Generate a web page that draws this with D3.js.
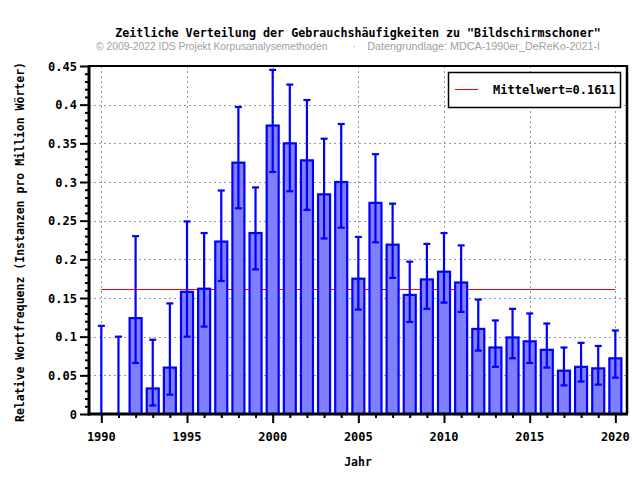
<!DOCTYPE html>
<html>
<head>
<meta charset="utf-8">
<script src="https://cdn.jsdelivr.net/npm/d3@7"></script>
<style>
  body { margin: 0; background: #fff; }
  svg { display: block; }
  .mono { font-family: "DejaVu Sans Mono", "Liberation Mono", monospace; font-weight: bold; }
</style>
</head>
<body>
<svg id="chart" width="640" height="480"></svg>
<script>
// values
const years = [1990, 1991, 1992, 1993, 1994, 1995, 1996, 1997, 1998, 1999,
               2000, 2001, 2002, 2003, 2004, 2005, 2006, 2007, 2008, 2009,
               2010, 2011, 2012, 2013, 2014, 2015, 2016, 2017, 2018, 2019, 2020];
const values = [0, 0, 0.124, 0.033, 0.060, 0.158, 0.162, 0.223, 0.325, 0.234,
                0.373, 0.350, 0.328, 0.284, 0.300, 0.175, 0.273, 0.219, 0.154, 0.174,
                0.184, 0.170, 0.110, 0.086, 0.099, 0.094, 0.083, 0.056, 0.061, 0.059, 0.072];
const upper = [0.114, 0.100, 0.230, 0.096, 0.143, 0.249, 0.234, 0.289, 0.397, 0.293,
               0.445, 0.426, 0.406, 0.356, 0.375, 0.229, 0.336, 0.272, 0.197, 0.220,
               0.234, 0.218, 0.148, 0.121, 0.136, 0.130, 0.117, 0.086, 0.092, 0.088, 0.108];
const lower = [0, 0, 0.066, 0.011, 0.025, 0.100, 0.113, 0.172, 0.266, 0.187,
               0.313, 0.288, 0.264, 0.227, 0.241, 0.135, 0.222, 0.176, 0.119, 0.136,
               0.144, 0.132, 0.082, 0.061, 0.072, 0.066, 0.060, 0.037, 0.042, 0.038, 0.047];
const meanValue = 0.1611;
const yTicks = [0, 0.05, 0.1, 0.15, 0.2, 0.25, 0.3, 0.35, 0.4, 0.45];
const xTicks = [1990, 1995, 2000, 2005, 2010, 2015, 2020];

const title = 'Zeitliche Verteilung der Gebrauchshäufigkeiten zu "Bildschirmschoner"';
const credit = '© 2009-2022 IDS Projekt Korpusanalysemethoden';
const source = 'Datengrundlage: MDCA-1990er_DeReKo-2021-I';

const plot = { left: 89, right: 627, top: 66, bottom: 414 };

const svg = d3.select('#chart');

const x = d3.scaleLinear().domain([1989.28, 2020.68]).range([plot.left, plot.right]);
const y = d3.scaleLinear().domain([0, 0.45]).range([plot.bottom, plot.top]);

// grid
const grid = svg.append('g').attr('stroke', '#999').attr('stroke-dasharray', '2,3').attr('stroke-width', 1);
grid.selectAll('.hg').data(yTicks.slice(1)).join('line')
    .attr('x1', plot.left).attr('x2', plot.right)
    .attr('y1', d => Math.round(y(d)) + 0.5).attr('y2', d => Math.round(y(d)) + 0.5);
grid.selectAll('.vg').data(xTicks).join('line')
    .attr('x1', d => Math.round(x(d)) + 0.5).attr('x2', d => Math.round(x(d)) + 0.5)
    .attr('y1', plot.top).attr('y2', plot.bottom);

// mean line
svg.append('line')
    .attr('x1', x(1990)).attr('x2', x(2020))
    .attr('y1', Math.round(y(meanValue)) + 0.5).attr('y2', Math.round(y(meanValue)) + 0.5)
    .attr('stroke', '#ff0000').attr('stroke-width', 1);

// bars
const barW = (x(1) - x(0)) * 0.7;
svg.append('g').selectAll('rect').data(years).join('rect')
    .attr('x', (d) => x(d) - barW / 2)
    .attr('width', barW)
    .attr('y', (d, i) => y(values[i]))
    .attr('height', (d, i) => y(0) - y(values[i]))
    .attr('fill', '#8080ff')
    .attr('stroke', '#0000ff')
    .attr('stroke-width', 2.2);

// error bars
const err = svg.append('g').attr('stroke', '#0000ff').attr('stroke-width', 2.2);
err.selectAll('.v').data(years).join('line')
    .attr('x1', d => x(d)).attr('x2', d => x(d))
    .attr('y1', (d, i) => y(upper[i])).attr('y2', (d, i) => y(lower[i]));
err.selectAll('.cu').data(years).join('line')
    .attr('x1', d => x(d) - 3.5).attr('x2', d => x(d) + 3.5)
    .attr('y1', (d, i) => y(upper[i])).attr('y2', (d, i) => y(upper[i]));
err.selectAll('.cl').data(years).join('line')
    .attr('x1', d => x(d) - 3.5).attr('x2', d => x(d) + 3.5)
    .attr('y1', (d, i) => y(lower[i])).attr('y2', (d, i) => y(lower[i]));

// frame
svg.append('line').attr('x1', plot.left).attr('x2', plot.right + 1).attr('y1', plot.top).attr('y2', plot.top)
    .attr('stroke', '#000').attr('stroke-width', 2);
svg.append('line').attr('x1', plot.right).attr('x2', plot.right).attr('y1', plot.top).attr('y2', plot.bottom)
    .attr('stroke', '#000').attr('stroke-width', 2.5);

// y axis
const yAxis = svg.append('g').attr('transform', `translate(${plot.left},0)`)
    .call(d3.axisLeft(y).tickValues(d3.range(0, 0.4501, 0.01)).tickSize(4).tickFormat(''));
yAxis.call(g => g.selectAll('.tick line').filter(d => yTicks.some(t => Math.abs(t - d) < 1e-6)).attr('x2', -9));
yAxis.selectAll('line').attr('stroke', '#000').attr('stroke-width', 2);
yAxis.select('.domain').remove();
svg.append('line').attr('x1', plot.left).attr('x2', plot.left).attr('y1', plot.top - 1).attr('y2', plot.bottom + 1.5)
    .attr('stroke', '#000').attr('stroke-width', 3);
svg.append('g').selectAll('text').data(yTicks).join('text')
    .attr('class', 'mono')
    .attr('x', 77).attr('y', d => y(d) + 4.5)
    .attr('text-anchor', 'end').attr('font-size', 12)
    .text(d => d === 0 ? '0' : String(d));

// x axis
const xAxis = svg.append('g').attr('transform', `translate(0,${plot.bottom})`)
    .call(d3.axisBottom(x).tickValues(years).tickSize(4).tickFormat(''));
xAxis.call(g => g.selectAll('.tick line').filter(d => xTicks.includes(d)).attr('y2', 9));
xAxis.selectAll('line').attr('stroke', '#000').attr('stroke-width', 2);
xAxis.select('.domain').remove();
svg.append('line').attr('x1', plot.left - 1.5).attr('x2', plot.right + 1).attr('y1', plot.bottom).attr('y2', plot.bottom)
    .attr('stroke', '#000').attr('stroke-width', 3);
svg.append('g').selectAll('text').data(xTicks).join('text')
    .attr('class', 'mono')
    .attr('x', d => x(d)).attr('y', 441)
    .attr('text-anchor', 'middle').attr('font-size', 12)
    .text(d => d);

// titles
svg.append('text').attr('class', 'mono')
    .attr('x', 358).attr('y', 37).attr('text-anchor', 'middle').attr('font-size', 11.7)
    .text(title);
const sub = svg.append('g').attr('font-family', 'Liberation Sans, Arial, sans-serif')
    .attr('fill', '#a0a0a0');
sub.append('text').attr('x', 96).attr('y', 50).attr('font-size', 10.3).text(credit);
sub.append('text').attr('x', 352).attr('y', 50).attr('font-size', 11).text('·');
sub.append('text').attr('x', 600).attr('y', 50).attr('text-anchor', 'end').attr('font-size', 10.8).text(source);

svg.append('text').attr('class', 'mono')
    .attr('x', 358).attr('y', 466).attr('text-anchor', 'middle').attr('font-size', 11.5)
    .text('Jahr');
svg.append('text').attr('class', 'mono')
    .attr('transform', 'translate(24,242) rotate(-90)')
    .attr('text-anchor', 'middle').attr('font-size', 11.5)
    .text('Relative Wortfrequenz (Instanzen pro Million Wörter)');

// legend
const legend = svg.append('g');
legend.append('rect').attr('x', 448.5).attr('y', 72.5).attr('width', 172).attr('height', 35)
    .attr('fill', '#fff').attr('stroke', '#000').attr('stroke-width', 1.5);
legend.append('line').attr('x1', 455).attr('x2', 478).attr('y1', 89.5).attr('y2', 89.5)
    .attr('stroke', '#ff0000').attr('stroke-width', 1);
legend.append('text').attr('class', 'mono')
    .attr('x', 493).attr('y', 93.5).attr('font-size', 12)
    .text('Mittelwert=' + meanValue);
</script>
</body>
</html>
